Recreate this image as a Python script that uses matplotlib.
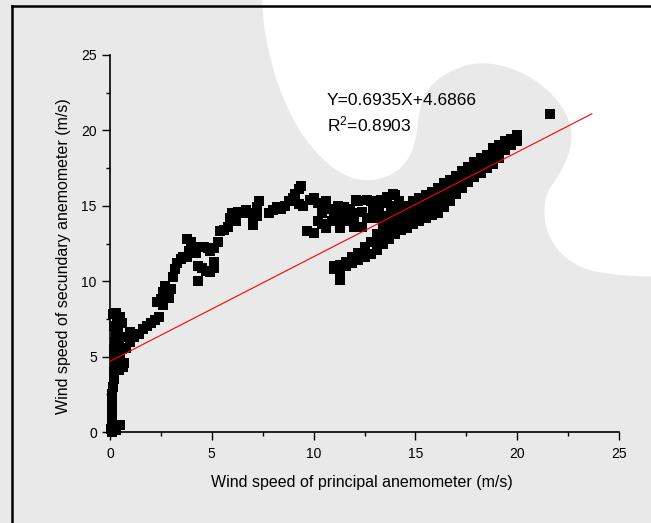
import numpy as np
from matplotlib import pyplot as plt
from matplotlib.lines import Line2D
from matplotlib.patches import Polygon
from matplotlib.ticker import MultipleLocator

plt.rcParams['font.family'] = ['Liberation Sans', 'DejaVu Sans']
plt.rcParams['mathtext.fontset'] = 'custom'
plt.rcParams['mathtext.rm'] = 'Liberation Sans'
plt.rcParams['mathtext.it'] = 'Liberation Sans'

# Points near the vertical axis (very low principal speed)
x_low = [0.05, 0.1, 0.1, 0.08, 0.1, 0.12, 0.15, 0.2, 0.18, 0.25, 0.3, 0.2, 0.25, 0.3, 0.2,
         0.35, 0.3, 0.5, 0.6, 0.4, 0.5, 0.4, 0.6, 0.5, 0.7, 0.65, 0.45, 0.3, 0.5, 0.2, 0.1,
         0.15, 0.35, 0.45, 0.2]
y_low = [0.2, 0.5, 1.0, 1.5, 2.0, 2.5, 3.0, 3.5, 4.0, 4.5, 5.0, 5.5, 6.0, 6.5, 7.0,
         7.5, 7.9, 7.6, 7.2, 6.8, 6.3, 5.8, 5.5, 5.0, 4.6, 4.3, 4.1, 0.15, 0.45, 0.1, 0.0,
         7.8, 7.0, 6.0, 5.2]

# Rising upper branch (0.8 - 9.5 m/s)
x_rise = [0.8, 1.0, 1.2, 1.0, 1.4, 1.6, 1.8, 2.0, 2.2, 2.4, 2.3, 2.5, 2.6, 2.7, 2.8, 2.6,
          2.9, 3.0, 3.1, 3.2, 3.3, 3.5, 3.6, 3.8, 3.9, 3.8, 4.0, 4.1, 4.2, 4.4, 4.6, 4.8,
          4.9, 5.1, 5.3, 5.4, 5.6, 5.8, 5.9, 6.0, 6.2, 6.3, 6.5, 6.7, 6.9, 7.0, 7.2, 7.3,
          7.2, 7.0, 7.8, 8.0, 8.2, 8.4, 8.6, 8.8, 9.0, 9.1, 9.3, 9.4, 9.3, 9.5]
y_rise = [5.6, 6.0, 6.3, 6.6, 6.5, 6.8, 7.0, 7.2, 7.4, 7.6, 8.6, 8.8, 9.3, 9.7, 9.0, 8.4,
          8.9, 9.5, 10.3, 10.8, 11.2, 11.5, 11.6, 11.6, 12.0, 12.8, 12.6, 12.3, 11.9, 12.3, 12.3, 12.2,
          12.0, 12.2, 12.6, 13.3, 13.4, 13.6, 14.2, 14.5, 14.0, 14.6, 14.5, 14.7, 14.5, 14.3, 14.9, 15.3,
          14.3, 13.7, 14.5, 14.7, 14.9, 14.8, 15.0, 15.3, 15.5, 15.8, 16.1, 16.3, 15.1, 15.0]

# Small lower group around 4-5 m/s
x_dip = [4.3, 4.5, 4.7, 4.9, 5.1, 5.1, 4.3]
y_dip = [11.0, 10.9, 10.7, 10.6, 10.9, 11.3, 10.0]

# Scattered plateau (9.7 - 14 m/s)
x_plat = [9.8, 10.0, 10.2, 10.0, 10.2, 10.4, 10.6, 10.8, 10.6, 10.9, 11.0, 11.2, 11.4, 11.3,
          11.6, 11.8, 12.0, 12.2, 12.0, 12.4, 12.6, 12.8, 13.0, 13.2, 13.4, 13.6, 13.8, 14.0,
          14.2, 13.5, 13.0, 12.4, 11.6, 11.9, 10.4, 12.1, 12.6, 13.3, 13.9, 9.7,
          10.5, 11.1, 11.5, 12.9]
y_plat = [15.4, 15.5, 15.2, 13.2, 14.0, 14.5, 15.3, 14.8, 13.5, 14.0, 14.6, 15.0, 14.4, 13.5,
          14.0, 14.8, 14.2, 15.3, 13.6, 13.6, 14.2, 15.3, 15.0, 14.6, 15.2, 15.6, 15.0, 15.7,
          15.3, 14.3, 14.2, 14.6, 14.8, 14.5, 13.8, 15.4, 15.4, 15.4, 15.8, 13.3,
          14.9, 14.2, 14.9, 14.7]

# Dense lower-right band (11 - 21.6 m/s)
x_band = [11.0, 11.0, 11.3, 11.3, 11.6, 11.6, 11.9, 11.9, 12.2, 12.2, 12.5, 12.5, 12.8, 12.8,
          13.1, 13.1, 13.1, 13.4, 13.4, 13.4, 13.4, 13.7, 13.7, 13.7, 13.7,
          14.0, 14.0, 14.0, 14.0, 14.3, 14.3, 14.3, 14.3, 14.6, 14.6, 14.6, 14.6,
          14.9, 14.9, 14.9, 14.9, 15.2, 15.2, 15.2, 15.2, 15.5, 15.5, 15.5, 15.5,
          15.8, 15.8, 15.8, 15.8, 16.1, 16.1, 16.1, 16.1, 16.4, 16.4, 16.4, 16.4,
          16.7, 16.7, 16.7, 16.7, 17.0, 17.0, 17.0, 17.3, 17.3, 17.3, 17.6, 17.6, 17.6,
          17.9, 17.9, 17.9, 18.2, 18.2, 18.2, 18.5, 18.5, 18.5, 18.8, 18.8, 18.8,
          19.1, 19.1, 19.1, 19.4, 19.4, 19.4, 19.7, 19.7, 20.0, 20.0, 11.3, 21.6]
y_band = [10.8, 11.0, 10.7, 11.1, 11.0, 11.3, 11.2, 11.6, 11.4, 11.9, 11.6, 12.3, 11.8, 12.6,
          12.1, 12.6, 13.1, 12.5, 13.0, 13.5, 13.9, 12.8, 13.3, 13.8, 14.2,
          13.1, 13.6, 14.1, 14.5, 13.4, 13.9, 14.4, 14.8, 13.5, 14.0, 14.5, 15.0,
          13.8, 14.3, 14.8, 15.3, 14.0, 14.5, 15.0, 15.5, 14.2, 14.7, 15.2, 15.7,
          14.4, 14.9, 15.4, 15.9, 14.5, 15.1, 15.7, 16.2, 14.9, 15.4, 16.0, 16.5,
          15.3, 15.8, 16.3, 16.7, 15.8, 16.4, 17.0, 16.2, 16.7, 17.3, 16.6, 17.0, 17.6,
          16.9, 17.4, 17.9, 17.2, 17.7, 18.2, 17.5, 18.0, 18.4, 17.8, 18.3, 18.8,
          18.2, 18.7, 19.0, 18.7, 19.1, 19.3, 19.0, 19.4, 19.3, 19.7, 10.1, 21.1]

# Linear fit shown on the chart
slope = 0.6935
intercept = 4.6866
fit_x = [0, 23.67]
eq_text = 'Y=0.6935X+4.6866'
r2_text = 'R$^{2}$=0.8903'

W, H = 651, 523
fig = plt.figure(figsize=(W / 100, H / 100), dpi=100)
fig.patch.set_facecolor('#e9e9e9')


def chaikin(pts, n=4):
    # round off the corners of the background outline
    pts = np.asarray(pts, dtype=float)
    for _ in range(n):
        q = 0.75 * pts[:-1] + 0.25 * pts[1:]
        r = 0.25 * pts[:-1] + 0.75 * pts[1:]
        pts = np.vstack([pts[:1], np.column_stack([q, r]).reshape(-1, 2), pts[-1:]])
    return pts


# White blob of the watermark background (pixel outline)
blob = [(262, -30), (262, 20), (275, 80), (300, 135), (335, 172), (367, 183), (400, 172),
        (416, 145), (420, 100), (440, 75), (480, 60), (525, 72), (560, 100), (575, 135),
        (562, 172), (544, 195), (545, 232), (565, 260), (600, 275), (700, 278), (700, -30)]
outline = chaikin(blob)
fig.patches.append(Polygon([(px / W, 1 - py / H) for px, py in outline], closed=True,
                           transform=fig.transFigure, facecolor='white', edgecolor='none',
                           zorder=-5))

# Black frame lines on the left and top
fig.add_artist(Line2D([12 / W, 12 / W], [0, 1 - 6 / H], color='black', lw=1.8,
                      transform=fig.transFigure))
fig.add_artist(Line2D([12 / W, 1], [1 - 6 / H, 1 - 6 / H], color='black', lw=1.8,
                      transform=fig.transFigure))

ax = fig.add_axes([110 / W, 1 - 432 / H, 509 / W, 377 / H])
ax.set_facecolor('none')
ax.set_zorder(1)

xs = x_low + x_rise + x_dip + x_plat + x_band
ys = y_low + y_rise + y_dip + y_plat + y_band
ax.scatter(xs, ys, marker='s', s=48, color='black', linewidths=0, zorder=2, clip_on=False)

fit_y = [slope * v + intercept for v in fit_x]
ax.plot(fit_x, fit_y, color='red', lw=0.8, zorder=3)

ax.text(10.65, 22.0, eq_text, fontsize=12.5, va='center', ha='left')
ax.text(10.65, 20.4, r2_text, fontsize=12.5, va='center', ha='left')

ax.set_xlim(0, 25)
ax.set_ylim(0, 25)
ax.xaxis.set_major_locator(MultipleLocator(5))
ax.xaxis.set_minor_locator(MultipleLocator(2.5))
ax.yaxis.set_major_locator(MultipleLocator(5))
ax.yaxis.set_minor_locator(MultipleLocator(2.5))
ax.tick_params(which='major', direction='out', length=5.5, width=1, labelsize=10, pad=4)
ax.tick_params(which='minor', direction='out', length=3, width=1)
ax.tick_params(axis='x', which='major', pad=5)

for side in ['top', 'right']:
    ax.spines[side].set_visible(False)
for side in ['left', 'bottom']:
    ax.spines[side].set_linewidth(1.2)

ax.set_xlabel('Wind speed of principal anemometer (m/s)', fontsize=11.5)
ax.set_ylabel('Wind speed of secundary anemometer (m/s)', fontsize=11.5)
ax.xaxis.set_label_coords(0.495, -0.134)
ax.xaxis.label.set_va('center')
ax.yaxis.set_label_coords(-0.092, 0.467)
ax.yaxis.label.set_va('center')

fig.savefig('out.png', dpi=100, facecolor=fig.get_facecolor())
